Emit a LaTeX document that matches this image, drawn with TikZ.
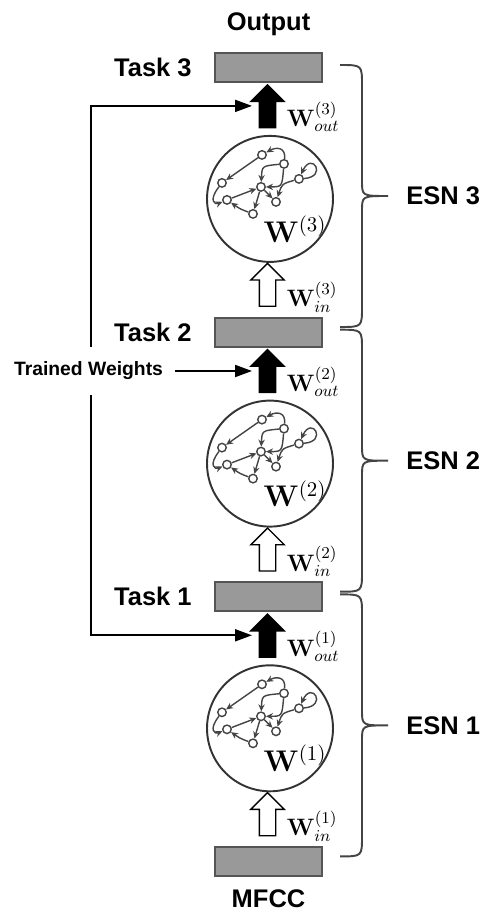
\RequirePackage{fix-cm}
\documentclass[tikz,border=0pt]{standalone}
\usepackage[no-math]{fontspec}
\setmainfont{Liberation Sans}
\usetikzlibrary{positioning,shapes.arrows,arrows.meta}
\definecolor{barfill}{HTML}{999999}
\definecolor{barline}{HTML}{555555}
\definecolor{resline}{HTML}{333333}
\definecolor{netline}{HTML}{444444}
\definecolor{braceline}{HTML}{444444}

\begin{document}
\begin{tikzpicture}[x=0.02cm,y=-0.02cm,
  bar/.style={draw=barline,fill=barfill,line width=1.2pt,minimum width=2.14cm,minimum height=0.58cm,inner sep=0},
  res/.style={circle,draw=resline,line width=1.1pt,minimum size=2.52cm,inner sep=0},
  unit/.style={circle,draw=netline,fill=white,line width=0.8pt,minimum size=0.17cm,inner sep=0},
  syn/.style={draw=netline,line width=0.8pt,-{Stealth[length=4pt,width=3.6pt]}},
  bigarrow/.style={single arrow,shape border rotate=90,draw,line width=0.8pt,minimum height=0.86cm,inner sep=0.15cm,single arrow head extend=0.17cm,single arrow tip angle=90},
  wire/.style={line width=1.1pt,-{Triangle[length=0.34cm,width=0.24cm]}},
  brc/.style={draw=braceline,line width=1.1pt},
  big/.style={font=\fontsize{14.5}{17}\selectfont\bfseries,inner sep=0},
  wlab/.style={font=\fontsize{13.5}{15}\selectfont,inner sep=0,anchor=west}]
  \useasboundingbox (0,0) rectangle (484,912);
  \node[bar] (b0) at (268.5,861.5) {};
  \node[big,below=0.24cm of b0] (mfcc) {MFCC};
  \foreach \k in {1,2,3}{
    \pgfmathsetmacro\yo{861.5-264.7*\k}
    \pgfmathsetmacro\ya{\yo-2.4}
    \pgfmathsetmacro\yb{\yo+259.6}
    \pgfmathsetmacro\ym{\yo+128.6}
    \node[bar] (b\k) at (268.5,\yo) {};
    \node[big,left=0.44cm of b\k] (task\k) {Task \k};
    \node[bigarrow,fill=black] (wo\k) at (267.5,\yo+43) {};
    \node[res] (r\k) at (270,\yo+131.5) {};
    \node[bigarrow,fill=white] (wi\k) at (267.5,\yo+221.5) {};
    \node[wlab] at ([xshift=0.38cm,yshift=-0.13cm]wo\k.center) {$\mathbf{W}^{(\k)}_{out}$};
    \node[wlab] at ([xshift=0.38cm,yshift=-0.16cm]wi\k.center) {$\mathbf{W}^{(\k)}_{in}$};
    \node[font=\fontsize{17}{19}\selectfont,inner sep=0] at ([xshift=0.5cm,yshift=-0.6cm]r\k.center) {$\mathbf{W}^{(\k)}$};
    \begin{scope}[shift={(r\k.center)}]
      \node[unit] (ua) at (-8,-44) {};
      \node[unit] (ub) at (14,-35) {};
      \node[unit] (uc) at (-48,-16) {};
      \node[unit] (ud) at (-9,-12) {};
      \node[unit] (ue) at (29,-20) {};
      \node[unit] (uf) at (-43,1) {};
      \node[unit] (ug) at (6,3) {};
      \node[unit] (uh) at (-17,15) {};
      \draw[syn] (ua) -- (uc);
      \draw[syn] (ub) .. controls (16,-52) and (6,-52) .. (ua);
      \draw[syn] (ub) .. controls (-8,-33) .. (ud);
      \draw[syn] (ub) .. controls (12,-12) .. (ud);
      \draw[syn] (ue) .. controls (12,-15) .. (ug);
      \draw[syn] (ue) .. controls (58,-22) and (42,-48) .. (ue);
      \draw[syn] (uf) -- (ud);
      \draw[syn] (uc) .. controls (-62,2) and (-55,6) .. (uf);
      \draw[syn] (ud) -- (uh);
      \draw[syn] (ud) -- (ug);
      \draw[syn] (uh) .. controls (-30,10) .. (uf);
    \end{scope}
    \draw[brc] (340,\ya) .. controls (362,\ya) .. (362,\ya+20) -- (362,\ym-15) .. controls (362,\ym) .. (388,\ym) .. controls (362,\ym) .. (362,\ym+15) -- (362,\yb-20) .. controls (362,\yb) .. (340,\yb);
    \coordinate (tip\k) at (388,\ym);
    \node[big,right=0.36cm of tip\k] (esn\k) {ESN \k};
    \coordinate (hit\k) at (252,\yo+38.5);
  }
  \node[big,above=0.32cm of b3] (output) {Output};
  \node[font=\fontsize{11}{13}\selectfont\bfseries,inner sep=0] (tw) at (88.5,371) {Trained Weights};
  \draw[wire] ([xshift=0.05cm,yshift=0.3cm]tw.north) |- (hit3);
  \draw[wire] ([xshift=0.05cm,yshift=-0.3cm]tw.south) |- (hit1);
  \draw[wire] ([xshift=0.24cm]tw.east) -- (tw.east -| hit2);
\end{tikzpicture}
\end{document}
